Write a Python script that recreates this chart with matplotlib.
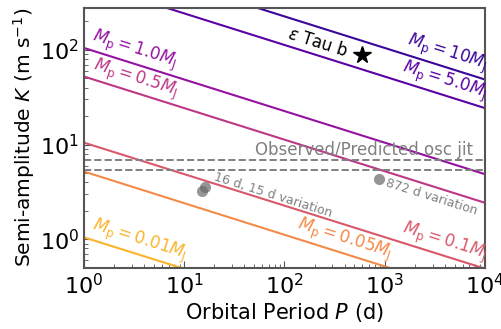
import numpy as np
import matplotlib
matplotlib.use('Agg')
import matplotlib.pyplot as plt

# planet masses (Jupiter masses) and the K values read at both ends of the x range
masses = ['10', '5.0', '1.0', '0.5', '0.1', '0.05', '0.01']
k_at_1d = [1049, 524, 105, 52.4, 10.5, 5.2, 1.05]
k_at_1e4d = [48.7, 24.3, 4.87, 2.43, 0.49, 0.24, 0.049]
period_ends = [1, 1e4]
line_colors = ['#3a079a', '#5c01a6', '#9511a1', '#bd3786', '#d9586a', '#f48a48', '#fbb42b']

# observed / predicted oscillation jitter levels
jitter = [6.8, 5.4]

# signals seen in the RVs
var_period = [15, 16, 872]
var_k = [3.2, 3.6, 4.3]

# epsilon Tau b
planet_period = [595]
planet_k = [89]

fig = plt.figure(figsize=(5.02, 3.29), dpi=100)
ax = fig.add_axes([0.167, 0.186, 0.799, 0.791])
ax.set_xscale('log')
ax.set_yscale('log')

for m, k1, k2, c in zip(masses, k_at_1d, k_at_1e4d, line_colors):
    ax.plot(period_ends, [k1, k2], color=c, lw=1.5)

for j in jitter:
    ax.axhline(j, color='gray', ls='--', lw=1.4)

ax.plot(var_period, var_k, 'o', color='dimgray', alpha=0.7, ms=8, mec='none')
ax.plot(planet_period, planet_k, '*', color='black', ms=13)

ax.set_xlim(1, 1e4)
ax.set_ylim(0.5, 280)


def k_on_line(i, p):
    # position of a label along line i (straight line in log-log)
    frac = np.log10(p) / 4.0
    lk = np.log10(k_at_1d[i]) + frac * (np.log10(k_at_1e4d[i]) - np.log10(k_at_1d[i]))
    return 10 ** lk


rot = -17.5
# (line index, period, horizontal alignment)
label_spots = [(0, 9500, 'right'), (1, 9500, 'right'), (2, 1.13, 'left'),
               (3, 1.15, 'left'), (4, 9500, 'right'), (5, 125, 'left'),
               (6, 1.12, 'left')]
for i, p, ha in label_spots:
    ax.text(p, k_on_line(i, p) * 1.04, r'$M_{\rm p}=' + masses[i] + r'M_{\rm J}$',
            color=line_colors[i], fontsize=12, rotation=rot, rotation_mode='anchor',
            ha=ha, va='bottom')

ax.text(51, 7.0, 'Observed/Predicted osc jit', color='gray', fontsize=12,
        ha='left', va='bottom')
ax.text(21, 5.3, '16 d, 15 d variation', color='gray', fontsize=9,
        rotation=rot, rotation_mode='anchor', ha='left', va='top')
ax.text(1075, 4.6, '872 d variation', color='gray', fontsize=9,
        rotation=rot, rotation_mode='anchor', ha='left', va='top')
ax.text(106, 134, r'$\epsilon$ Tau b', color='black', fontsize=12,
        rotation=rot, rotation_mode='anchor', ha='left', va='baseline')

ax.set_xlabel(r'Orbital Period $P$ (d)', fontsize=15, labelpad=2)
ax.set_ylabel(r'Semi-amplitude $K$ (m s$^{-1}$)', fontsize=14.5, labelpad=2)
ax.tick_params(which='both', direction='in', labelsize=16, color='#555555')
ax.tick_params(which='major', length=5)
ax.tick_params(which='minor', length=3)
for s in ax.spines.values():
    s.set_color('#555555')
    s.set_linewidth(1.5)

fig.savefig('out.png', dpi=100)
